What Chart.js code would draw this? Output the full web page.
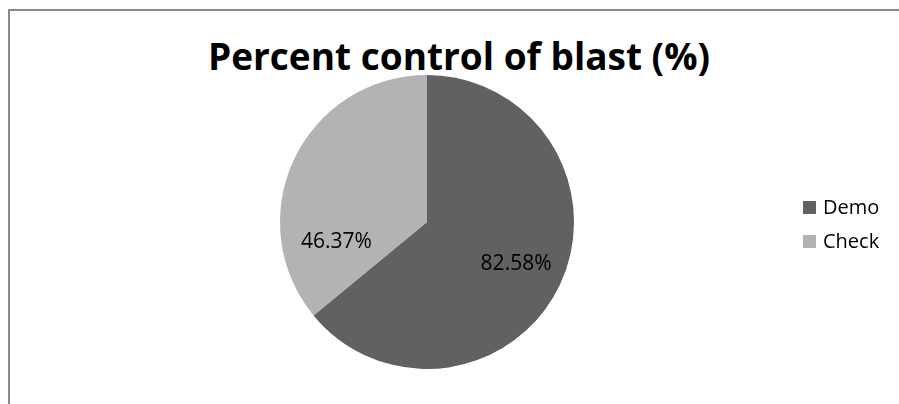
<!DOCTYPE html>
<html>
<head>
<meta charset="utf-8">
<script src="https://cdn.jsdelivr.net/npm/chart.js@4.4.0/dist/chart.umd.min.js"></script>
<style>
    body { margin: 0; background: #fff; }
    #wrap { position: relative; width: 899px; height: 404px; overflow: hidden; }
    #frame { position: absolute; left: 8px; top: 9px; width: 900px; height: 400px;
             border-left: 2px solid #8a8a8a; border-top: 2px solid #8a8a8a; }
    #title { position: absolute; left: 0; width: 918px; top: 30px; text-align: center;
             font-family: 'Open Sans', sans-serif; font-weight: bold; font-size: 37px; color: #000; }
    #legend { position: absolute; left: 803px; top: 196px; font-family: 'Open Sans', sans-serif;
              font-size: 20px; color: #000; }
    .item { height: 34px; line-height: 22px; white-space: nowrap; }
    .box { display: inline-block; width: 13px; height: 13px; margin-right: 7px; vertical-align: 0px; }
    canvas { position: absolute; left: 0; top: 0; }
</style>
</head>
<body>
<div id="wrap">
    <div id="frame"></div>
    <div id="title">Percent control of blast (%)</div>
    <canvas id="pieChart" width="899" height="404"></canvas>
    <div id="legend"></div>
</div>
<script>
// chart data
const categories = ['Demo', 'Check'];
const values = [82.58, 46.37];
const labelsText = ['82.58%', '46.37%'];
const colors = ['#616161', '#b3b3b3'];

// where each label sits: fraction across the slice, fraction of radius
const labelPlace = [{ along: 0.5, dist: 0.67 }, { along: 0.21, dist: 0.63 }];

var sliceLabels = {
    id: 'sliceLabels',
    afterDatasetsDraw(chart) {
        var ctx = chart.ctx;
        var arcs = chart.getDatasetMeta(0).data;
        ctx.save();
        ctx.font = '21px "Open Sans", sans-serif';
        ctx.fillStyle = '#000';
        ctx.textAlign = 'center';
        ctx.textBaseline = 'middle';
        arcs.forEach(function(arc, i) {
            var p = arc.getProps(['x', 'y', 'startAngle', 'endAngle', 'outerRadius'], true);
            var a = p.startAngle + (p.endAngle - p.startAngle) * labelPlace[i].along;
            var r = p.outerRadius * labelPlace[i].dist;
            ctx.fillText(labelsText[i], p.x + Math.cos(a) * r, p.y + Math.sin(a) * r);
        });
        ctx.restore();
    }
};

var ctx = document.getElementById('pieChart').getContext('2d');
var myChart = new Chart(ctx, {
    type: 'pie',
    data: {
        labels: categories,
        datasets: [{
            data: values,
            backgroundColor: colors,
            borderWidth: 0
        }]
    },
    options: {
        responsive: false,
        animation: false,
        layout: {
            padding: { left: 280, right: 325, top: 75, bottom: 35 }
        },
        plugins: {
            legend: { display: false },
            title: { display: false },
            tooltip: { enabled: false }
        }
    },
    plugins: [sliceLabels]
});

// legend
var legendDiv = document.getElementById('legend');
categories.forEach(function(name, i) {
    legendDiv.innerHTML += `<div class="item"><span class="box" style="background:${colors[i]}"></span>${name}</div>`;
});
</script>
</body>
</html>
